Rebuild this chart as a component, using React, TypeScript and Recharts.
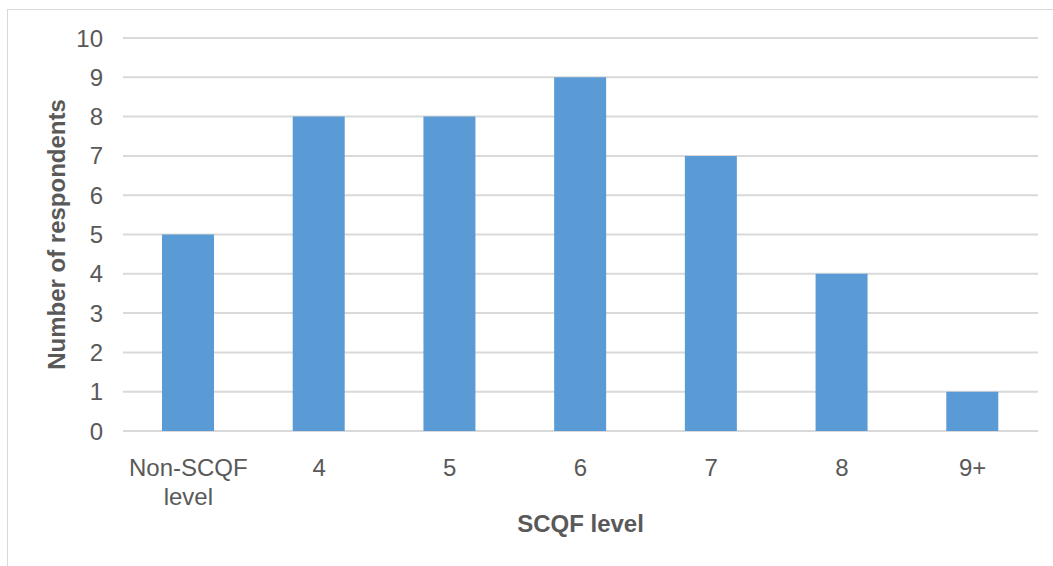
import { BarChart, Bar, XAxis, YAxis, CartesianGrid, Label } from 'recharts'

const levels = ['Non-SCQF level', '4', '5', '6', '7', '8', '9+']
const respondents = [5, 8, 8, 9, 7, 4, 1]
const yTicks = [0, 1, 2, 3, 4, 5, 6, 7, 8, 9, 10]

const data = levels.map((level, i) => ({ level, count: respondents[i] }))

const FONT = '"Liberation Sans", Arial, sans-serif'
const TEXT = '#595959'

type TickProps = {
  x?: number
  y?: number
  payload?: { value: string }
}

// category labels; the long one breaks onto a second line like Excel does
const LevelTick = ({ x = 0, y = 0, payload }: TickProps) => {
  const value = payload?.value ?? ''
  const lines = value === 'Non-SCQF level' ? ['Non-SCQF', 'level'] : [value]
  return (
    <text x={x} y={y} textAnchor="middle" fill={TEXT} fontSize={24} fontFamily={FONT}>
      {lines.map((line, i) => (
        <tspan key={i} x={x} dy={i === 0 ? 37 : 29}>
          {line}
        </tspan>
      ))}
    </text>
  )
}

export default function App() {
  return (
    <div
      style={{
        position: 'fixed',
        left: 0,
        top: 0,
        width: 1053,
        height: 566,
        overflow: 'hidden',
        background: '#fff',
      }}
    >
      <div
        style={{
          position: 'absolute',
          left: 7,
          top: 9,
          width: 1100,
          height: 600,
          border: '1px solid #d9d9d9',
        }}
      />
      <div style={{ position: 'absolute', left: 0, top: 0 }}>
        <BarChart
          width={1053}
          height={566}
          data={data}
          margin={{ top: 38, right: 15, bottom: 0, left: 0 }}
        >
          <CartesianGrid vertical={false} stroke="#d9d9d9" strokeWidth={2} />
          <XAxis
            dataKey="level"
            height={135}
            axisLine={false}
            tickLine={false}
            interval={0}
            tick={<LevelTick />}
          >
            <Label
              value="SCQF level"
              position="insideBottom"
              offset={34}
              fill={TEXT}
              fontSize={24}
              fontWeight="bold"
              fontFamily={FONT}
            />
          </XAxis>
          <YAxis
            width={123}
            domain={[0, 10]}
            ticks={yTicks}
            interval={0}
            axisLine={false}
            tickLine={false}
            tickSize={0}
            tickMargin={20}
            tick={{ fill: TEXT, fontSize: 24, fontFamily: FONT }}
          >
            <Label
              value="Number of respondents"
              angle={-90}
              position="insideLeft"
              offset={56}
              fill={TEXT}
              fontSize={24}
              fontWeight="bold"
              fontFamily={FONT}
              style={{ textAnchor: 'middle' }}
            />
          </YAxis>
          <Bar dataKey="count" fill="#5b9bd5" barSize={52} isAnimationActive={false} />
        </BarChart>
      </div>
    </div>
  )
}
